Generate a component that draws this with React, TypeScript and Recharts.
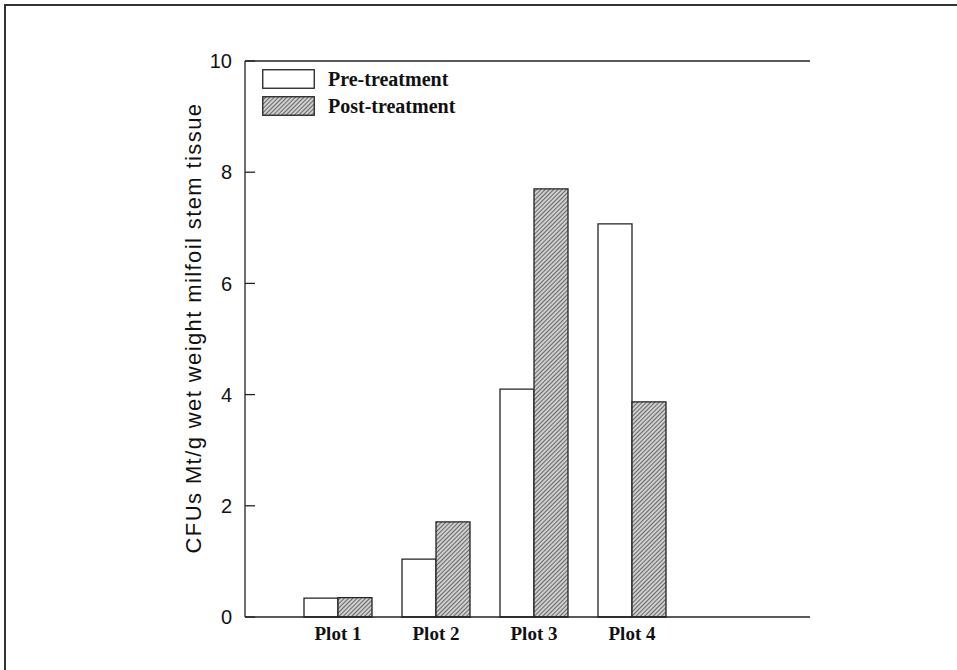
import React from "react";
import {
  BarChart,
  Bar,
  XAxis,
  YAxis,
  ReferenceLine,
  Legend,
} from "recharts";

const plots = ["Plot 1", "Plot 2", "Plot 3", "Plot 4"];
const preTreatment = [0.34, 1.04, 4.1, 7.07];
const postTreatment = [0.35, 1.71, 7.7, 3.87];
const yTicks = [0, 2, 4, 6, 8, 10];
const seriesOrder = ["pre", "post"];

const data = plots.map((plot, i) => ({
  plot,
  pre: preTreatment[i],
  post: postTreatment[i],
}));

const SANS = '"Liberation Sans", Arial, sans-serif';
const SERIF = '"Liberation Serif", "Times New Roman", serif';
const INK = "#222";

function Hatch({ id }: { id: string }) {
  return (
    <pattern
      id={id}
      width={3}
      height={3}
      patternUnits="userSpaceOnUse"
      patternTransform="rotate(45)"
    >
      <rect width={3} height={3} fill="#cfcfcf" />
      <line x1={0} y1={0} x2={0} y2={3} stroke="#2e2e2e" strokeWidth={1.3} />
    </pattern>
  );
}

function LegendBox(props: any) {
  const items = [...((props.payload || []) as any[])].sort(
    (a, b) => seriesOrder.indexOf(a.dataKey) - seriesOrder.indexOf(b.dataKey)
  );
  return (
    <div style={{ display: "flex", flexDirection: "column", gap: 8 }}>
      {items.map((item) => (
        <div
          key={item.value}
          style={{ display: "flex", alignItems: "center", height: 19 }}
        >
          <svg width={53} height={20} style={{ display: "block" }}>
            <defs>
              <Hatch id="legendHatch" />
            </defs>
            <rect
              x={0.75}
              y={0.75}
              width={51.5}
              height={18.5}
              fill={item.dataKey === "post" ? "url(#legendHatch)" : "#fff"}
              stroke={INK}
              strokeWidth={1.3}
            />
          </svg>
          <span
            style={{
              marginLeft: 13,
              fontFamily: SERIF,
              fontWeight: "bold",
              fontSize: 20,
              color: "#111",
              lineHeight: "20px",
            }}
          >
            {item.value}
          </span>
        </div>
      ))}
    </div>
  );
}

function YLabel(props: any) {
  const { viewBox } = props;
  const cx = viewBox.x + viewBox.width - 52;
  const cy = viewBox.y + viewBox.height / 2 - 11;
  return (
    <text
      x={cx}
      y={cy}
      transform={`rotate(-90, ${cx}, ${cy})`}
      textAnchor="middle"
      dominantBaseline="central"
      fontFamily={SANS}
      fontSize={22}
      letterSpacing={1.4}
      fill="#111"
    >
      CFUs Mt/g wet weight milfoil stem tissue
    </text>
  );
}

export default function App() {
  return (
    <div
      style={{
        position: "fixed",
        left: 0,
        top: 0,
        width: 957,
        height: 670,
        background: "#fff",
        overflow: "hidden",
      }}
    >
      {/* scanned page frame: top and left edges only */}
      <div
        style={{
          position: "absolute",
          left: 4,
          top: 4,
          right: 0,
          bottom: 0,
          borderTop: "2px solid #333",
          borderLeft: "2px solid #333",
        }}
      />
      <BarChart
        width={957}
        height={670}
        data={data}
        margin={{ top: 61, right: 147, bottom: 23, left: 0 }}
        barGap={0}
        barSize={34}
        style={{ position: "absolute", left: 0, top: 0 }}
      >
        <defs>
          <Hatch id="postHatch" />
        </defs>
        <XAxis
          dataKey="plot"
          height={30}
          padding={{ left: 44, right: 129 }}
          tickLine={false}
          axisLine={{ stroke: INK, strokeWidth: 1.3 }}
          tickMargin={4}
          tick={{
            fontFamily: SERIF,
            fontWeight: "bold",
            fontSize: 19,
            fill: "#111",
          }}
        />
        <YAxis
          yAxisId="left"
          width={245}
          domain={[0, 10]}
          ticks={yTicks}
          interval={0}
          tickSize={-10}
          tickMargin={23}
          axisLine={{ stroke: INK, strokeWidth: 1.3 }}
          tickLine={{ stroke: INK, strokeWidth: 1.3 }}
          tick={{ fontFamily: SANS, fontSize: 20, fill: "#111" }}
          label={<YLabel />}
        />
        <YAxis
          yAxisId="right"
          orientation="right"
          width={0}
          domain={[0, 10]}
          ticks={yTicks}
          interval={0}
          tickSize={-10}
          tickFormatter={() => ""}
          axisLine={{ stroke: INK, strokeWidth: 1.3 }}
          tickLine={{ stroke: INK, strokeWidth: 1.3 }}
        />
        <ReferenceLine
          yAxisId="left"
          y={10}
          stroke={INK}
          strokeWidth={1.3}
        />
        <Legend
          layout="vertical"
          align="center"
          verticalAlign="middle"
          content={<LegendBox />}
          wrapperStyle={{ left: 262, top: 69, width: "auto", height: "auto" }}
        />
        <Bar
          yAxisId="left"
          dataKey="pre"
          name="Pre-treatment"
          fill="#fff"
          stroke={INK}
          strokeWidth={1.3}
          isAnimationActive={false}
        />
        <Bar
          yAxisId="left"
          dataKey="post"
          name="Post-treatment"
          fill="url(#postHatch)"
          stroke={INK}
          strokeWidth={1.3}
          isAnimationActive={false}
        />
      </BarChart>
    </div>
  );
}
